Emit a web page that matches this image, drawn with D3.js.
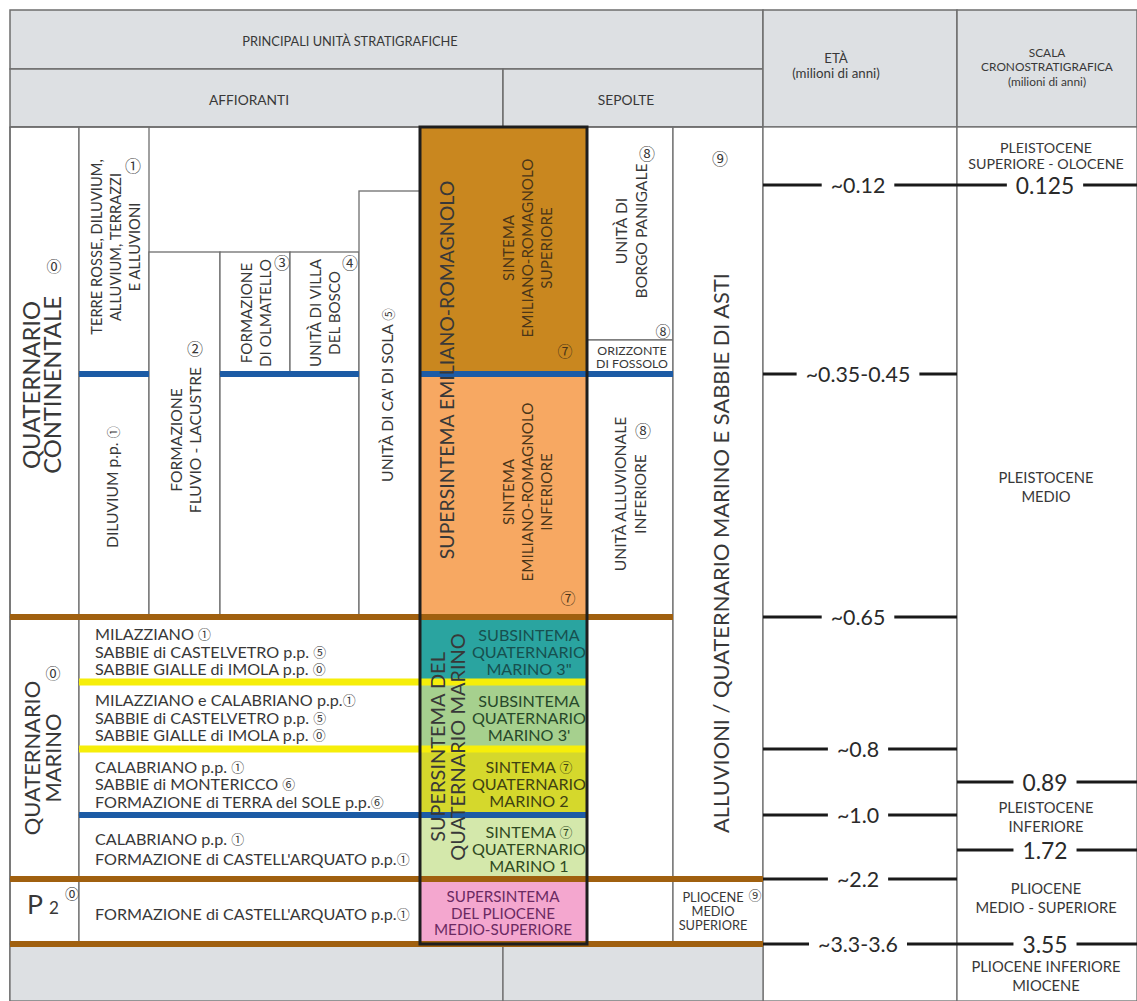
<!DOCTYPE html>
<html><head><meta charset="utf-8">
<script src="https://cdn.jsdelivr.net/npm/d3@7"></script>
<style>body{margin:0;background:#fff}svg{display:block}</style>
</head><body>
<svg id="chart" width="1137" height="1001"></svg>
<script>
// ---------------- DATA ----------------
const headerTitle = "PRINCIPALI UNITÀ STRATIGRAFICHE";
const headerGroups = ["AFFIORANTI", "SEPOLTE"];
const ageHeader = ["ETÀ", "(milioni di anni)"];
const chronoHeader = ["SCALA", "CRONOSTRATIGRAFICA", "(milioni di anni)"];

// age boundaries (ETÀ column)
const ageLabels = ["~0.12", "~0.35-0.45", "~0.65", "~0.8", "~1.0", "~2.2", "~3.3-3.6"];
const ageLevels = ["b012", "b035", "b065", "y2", "b10", "b22", "b33"];

// chronostratigraphic scale
const chronoLabels = ["0.125", "0.89", "1.72", "3.55"];
const chronoLevels = ["b012", "b089", "b172", "b33"];
const epochNames = [
  ["PLEISTOCENE", "SUPERIORE - OLOCENE"],
  ["PLEISTOCENE", "MEDIO"],
  ["PLEISTOCENE", "INFERIORE"],
  ["PLIOCENE", "MEDIO - SUPERIORE"],
  ["PLIOCENE INFERIORE", "MIOCENE"]
];

// main units
const domainNames = [["QUATERNARIO", "CONTINENTALE"], ["QUATERNARIO", "MARINO"]];
const affioranti = [
  ["TERRE ROSSE, DILUVIUM,", "ALLUVIUM, TERRAZZI", "E ALLUVIONI"],
  ["DILUVIUM p.p. ①"],
  ["FORMAZIONE", "FLUVIO - LACUSTRE"],
  ["FORMAZIONE", "DI OLMATELLO"],
  ["UNITÀ DI VILLA", "DEL BOSCO"],
  ["UNITÀ DI CA' DI SOLA  ⑤"]
];
const marineLists = [
  ["MILAZZIANO ①", "SABBIE di CASTELVETRO p.p.  ⑤", "SABBIE GIALLE di IMOLA p.p. ⓪"],
  ["MILAZZIANO e CALABRIANO p.p.①", "SABBIE di CASTELVETRO p.p.  ⑤", "SABBIE GIALLE di IMOLA p.p. ⓪"],
  ["CALABRIANO p.p. ①", "SABBIE di MONTERICCO ⑥", "FORMAZIONE di TERRA del SOLE p.p.⑥"],
  ["CALABRIANO p.p. ①", "FORMAZIONE di CASTELL'ARQUATO p.p.①"],
  ["FORMAZIONE di CASTELL'ARQUATO p.p.①"]
];
const supersintemi = [["SUPERSINTEMA EMILIANO-ROMAGNOLO"], ["SUPERSINTEMA DEL", "QUATERNARIO MARINO"]];
const sintemaKeys = ["ers", "eri", "qm3b", "qm3a", "qm2", "qm1", "plio"];
const sintemaNames = [
  ["SINTEMA", "EMILIANO-ROMAGNOLO", "SUPERIORE"],
  ["SINTEMA", "EMILIANO-ROMAGNOLO", "INFERIORE"],
  ["SUBSINTEMA", "QUATERNARIO", "MARINO 3\""],
  ["SUBSINTEMA", "QUATERNARIO", "MARINO 3'"],
  ["SINTEMA ⑦", "QUATERNARIO", "MARINO 2"],
  ["SINTEMA ⑦", "QUATERNARIO", "MARINO 1"],
  ["SUPERSINTEMA", "DEL PLIOCENE", "MEDIO-SUPERIORE"]
];
const sepolte = [["UNITÀ DI", "BORGO PANIGALE"], ["ORIZZONTE", "DI FOSSOLO"], ["UNITÀ ALLUVIONALE", "INFERIORE"]];
const deepUnit = ["ALLUVIONI / QUATERNARIO MARINO E SABBIE DI ASTI"];
const plioUnit = ["PLIOCENE", "MEDIO", "SUPERIORE"];

// ---------------- SCALES (layout) ----------------
const y = d3.scaleOrdinal()
  .domain(["top","hdr","body","b012","c5top","c2top","foss","b035","b065","y1","y2","b089","b10","b172","b22","b33","end"])
  .range([10,69,127,185,191,252,340,374,617,682,749,782,815,850,879,944,1001]);
const x = d3.scaleOrdinal()
  .domain(["c0","c1","c2","c3","c4","c5","c6","mid","c7","c8","c9","c10","end"])
  .range([10,79,149,220,290,359,420,503,587,673,763,957,1137]);
const sintemaColor = d3.scaleOrdinal().domain(sintemaKeys)
  .range(["#c9871f","#f7a862","#2aa4a0","#a6d08e","#d5d82c","#d4e8ab","#f4a7cf"]);
const sintemaText = d3.scaleOrdinal().domain(sintemaKeys)
  .range(["#4a3518","#4a3518","#17504f","#27492a","#3f4212","#2f4a22","#6b2a62"]);

const FONT = "Lato, 'Open Sans', sans-serif";
const CIRC = "'Noto Sans CJK SC', 'DejaVu Sans', sans-serif";
const FS = 0.95;
const TXT = "#383838";
const svg = d3.select("#chart");
const mid = (a, b, s) => (s(a) + s(b)) / 2;
const circled = /([\u2460-\u2473\u24EA])/;

function rect(g, c0, c1, r0, r1, fill, stroke, sw) {
  g.append("rect").attr("x", x(c0)).attr("y", y(r0))
    .attr("width", x(c1) - x(c0)).attr("height", y(r1) - y(r0))
    .attr("fill", fill).attr("stroke", stroke || "none").attr("stroke-width", sw || 0);
}
function hline(g, r, c0, c1, color, w) {
  g.append("line").attr("x1", x(c0)).attr("x2", x(c1)).attr("y1", y(r)).attr("y2", y(r))
    .attr("stroke", color).attr("stroke-width", w);
}
// fill a text element, circled digits in a font that has them
function fillText(t, str, size) {
  str.split(circled).forEach(part => {
    if (!part) return;
    const ts = t.append("tspan").text(part);
    if (circled.test(part)) ts.attr("font-size", size * 0.8).attr("font-family", CIRC);
  });
}
// multi-line text; rot: rotate -90 (reads bottom to top)
function label(g, cx, cy, lines, size, opts = {}) {
  const lh = opts.lh || size * 1.15;
  const grp = g.append("g").attr("transform", `translate(${cx},${cy})` + (opts.rot ? " rotate(-90)" : ""));
  const n = lines.length;
  lines.forEach((str, i) => {
    const t = grp.append("text")
      .attr("x", 0).attr("y", (i - (n - 1) / 2) * lh)
      .attr("dominant-baseline", "central")
      .attr("text-anchor", opts.anchor || "middle")
      .attr("font-family", FONT).attr("font-size", size * FS)
      .attr("font-weight", opts.weight || 400)
      .attr("fill", opts.color || TXT);
    fillText(t, str, size * FS);
  });
  return grp;
}
function mark(g, cx, cy, sym, size, color) {
  g.append("text").text(sym).attr("x", cx).attr("y", cy)
    .attr("dominant-baseline", "central").attr("text-anchor", "middle")
    .attr("font-family", CIRC).attr("font-size", size).attr("fill", color || TXT);
}

const gGrid = svg.append("g");
const HDR = "#dde0e3", BORDER = "#6e6e6e";

// ---- header ----
rect(gGrid, "c0", "c9", "top", "hdr", HDR, BORDER, 1.5);
rect(gGrid, "c0", "mid", "hdr", "body", HDR, BORDER, 1.5);
rect(gGrid, "mid", "c9", "hdr", "body", HDR, BORDER, 1.5);
rect(gGrid, "c9", "c10", "top", "body", HDR, BORDER, 1.5);
rect(gGrid, "c10", "end", "top", "body", HDR, BORDER, 1.5);
label(svg, 350, 41, [headerTitle], 13.5);
label(svg, 249, 99, [headerGroups[0]], 14.5);
label(svg, 626, 99, [headerGroups[1]], 14.5);
label(svg, 836, 65, ageHeader, 14, {lh: 15});
label(svg, 1047, 66, chronoHeader, 12.5, {lh: 14.5});

// ---- body cells ----
const cells = [
  ["c0","c1","body","b065"],["c0","c1","b065","b22"],["c0","c1","b22","b33"],
  ["c1","c2","body","b035"],["c1","c2","b035","b065"],
  ["c2","c3","c2top","b065"],["c3","c4","c2top","b035"],["c4","c5","c2top","b035"],["c3","c5","b035","b065"],
  ["c5","c6","c5top","b065"],
  ["c1","c6","b065","y1"],["c1","c6","y1","y2"],["c1","c6","y2","b10"],["c1","c6","b10","b22"],["c1","c6","b22","b33"],
  ["c7","c8","body","foss"],["c7","c8","foss","b035"],["c7","c8","b035","b065"],["c7","c8","b065","b22"],["c7","c8","b22","b33"],
  ["c8","c9","body","b22"],["c8","c9","b22","b33"],
  ["c9","c10","body","end"],["c10","end","body","end"]
];
cells.forEach(c => rect(gGrid, c[0], c[1], c[2], c[3], "#fff", BORDER, 1.3));
gGrid.append("line").attr("x1", x("c0")).attr("x2", x("c0")).attr("y1", y("body")).attr("y2", y("end")).attr("stroke", BORDER).attr("stroke-width", 1.5);
hline(gGrid, "body", "c0", "c9", BORDER, 1.5);
// bottom grey band
rect(gGrid, "c0", "mid", "b33", "end", HDR, BORDER, 1.3);
rect(gGrid, "mid", "c9", "b33", "end", HDR, BORDER, 1.3);

// sintema fills
const sintemaRows = [["body","b035"],["b035","b065"],["b065","y1"],["y1","y2"],["y2","b10"],["b10","b22"],["b22","b33"]];
sintemaKeys.forEach((k, i) => rect(gGrid, "c6", "c7", sintemaRows[i][0], sintemaRows[i][1], sintemaColor(k)));

// coloured boundaries
const BLUE = "#1c5ba5", BROWN = "#a0600f", YELLOW = "#f6ee0a";
[["c1","c2"],["c3","c5"],["c6","c8"]].forEach(s => hline(gGrid, "b035", s[0], s[1], BLUE, 6));
hline(gGrid, "b065", "c0", "c8", BROWN, 6);
hline(gGrid, "y1", "c1", "c7", YELLOW, 7);
hline(gGrid, "y2", "c1", "c7", YELLOW, 7);
hline(gGrid, "b10", "c1", "c7", BLUE, 6);
hline(gGrid, "b22", "c0", "c9", BROWN, 6);
hline(gGrid, "b33", "c0", "c9", BROWN, 6);
// black frame for supersintemi
rect(gGrid, "c6", "c7", "body", "b33", "none", "#1e1e1e", 3);

// ---- texts, column 0 ----
label(svg, 41.5, 385, domainNames[0], 25, {rot: true, lh: 21});
label(svg, 41, 758, domainNames[1], 23, {rot: true, lh: 21});
mark(svg, 54, 265, "⓪", 15);
mark(svg, 53, 672, "⓪", 15);
svg.append("text").attr("x", 27).attr("y", 914).attr("font-family", FONT).attr("font-size", 28 * FS).attr("fill", TXT).text("P");
svg.append("text").attr("x", 49).attr("y", 914).attr("font-family", FONT).attr("font-size", 18 * FS).attr("fill", TXT).text("2");
mark(svg, 72, 893, "⓪", 14);

// affioranti verticals
label(svg, 115, 247, affioranti[0], 15.5, {rot: true, lh: 19});
mark(svg, 133, 165, "①", 16);
label(svg, 112, 487, affioranti[1], 16.5, {rot: true});
label(svg, 185.5, 440, affioranti[2], 16.5, {rot: true, lh: 19});
mark(svg, 195, 348, "②", 16);
label(svg, 255.5, 313, affioranti[3], 16, {rot: true, lh: 19});
mark(svg, 282, 262, "③", 16);
label(svg, 324.5, 313, affioranti[4], 16, {rot: true, lh: 19});
mark(svg, 350, 262, "④", 16);
label(svg, 387, 395, affioranti[5], 16.5, {rot: true});

// marine lists
const listCenters = [mid("b065","y1",y), mid("y1","y2",y), mid("y2","b10",y), mid("b10","b22",y), mid("b22","b33",y)];
marineLists.forEach((l, i) => label(svg, 95, listCenters[i] + 1, l, 17, {anchor: "start", lh: i === 3 ? 20 : 17.5}));

// supersintemi & sintemi
label(svg, 446, 370, supersintemi[0], 20.5, {rot: true});
label(svg, 447, 747, supersintemi[1], 21, {rot: true, lh: 20});
label(svg, 527, 248, sintemaNames[0], 16, {rot: true, lh: 19, color: sintemaText("ers")});
mark(svg, 565, 350, "⑦", 15, sintemaText("ers"));
label(svg, 527, 492, sintemaNames[1], 16, {rot: true, lh: 19, color: sintemaText("eri")});
mark(svg, 568, 597, "⑦", 15, sintemaText("eri"));
[2,3,4,5].forEach(i => {
  const r = sintemaRows[i];
  label(svg, 529, mid(r[0], r[1], y) + 1, sintemaNames[i], 17, {lh: 17, color: sintemaText(sintemaKeys[i])});
});
label(svg, 503, mid("b22","b33",y) + 1, sintemaNames[6], 16, {lh: 16.5, color: sintemaText("plio")});

// sepolte
label(svg, 631, 231, sepolte[0], 16.5, {rot: true, lh: 20});
mark(svg, 647, 153, "⑧", 16);
mark(svg, 663, 330, "⑧", 15);
label(svg, 632, 356.5, sepolte[1], 13, {lh: 13.5});
label(svg, 630, 494, sepolte[2], 16.5, {rot: true, lh: 20});
mark(svg, 643, 430, "⑧", 16);

// deep unit
mark(svg, 720, 158, "⑨", 16);
label(svg, 720, 553, deepUnit, 23, {rot: true});
label(svg, 713, 911, plioUnit, 13.5, {lh: 14});
mark(svg, 755, 894, "⑨", 13);

// ---- age ticks (ETÀ) ----
function tick(cA, cB, level, text, size, cx) {
  const yy = y(level);
  const t = svg.append("text").text(text).attr("x", cx).attr("y", yy)
    .attr("dominant-baseline", "central").attr("text-anchor", "middle")
    .attr("font-family", FONT).attr("font-size", size * FS).attr("fill", "#2a2a2a");
  const w = t.node().getComputedTextLength();
  const pad = 9;
  svg.append("line").attr("x1", x(cA)).attr("x2", cx - w / 2 - pad).attr("y1", yy).attr("y2", yy).attr("stroke", "#1a1a1a").attr("stroke-width", 3);
  svg.append("line").attr("x1", cx + w / 2 + pad).attr("x2", x(cB)).attr("y1", yy).attr("y2", yy).attr("stroke", "#1a1a1a").attr("stroke-width", 3);
}
ageLabels.forEach((a, i) => tick("c9", "c10", ageLevels[i], a, 22.5, 858));
chronoLabels.forEach((a, i) => tick("c10", "end", chronoLevels[i], a, 24, 1045));

// epochs
const epochCenters = [155, 486, 816, 897, 975];
epochNames.forEach((e, i) => label(svg, 1046, epochCenters[i], e, i === 0 ? 15 : 15.5, {lh: i === 0 ? 16 : 19}));
</script>
</body></html>
